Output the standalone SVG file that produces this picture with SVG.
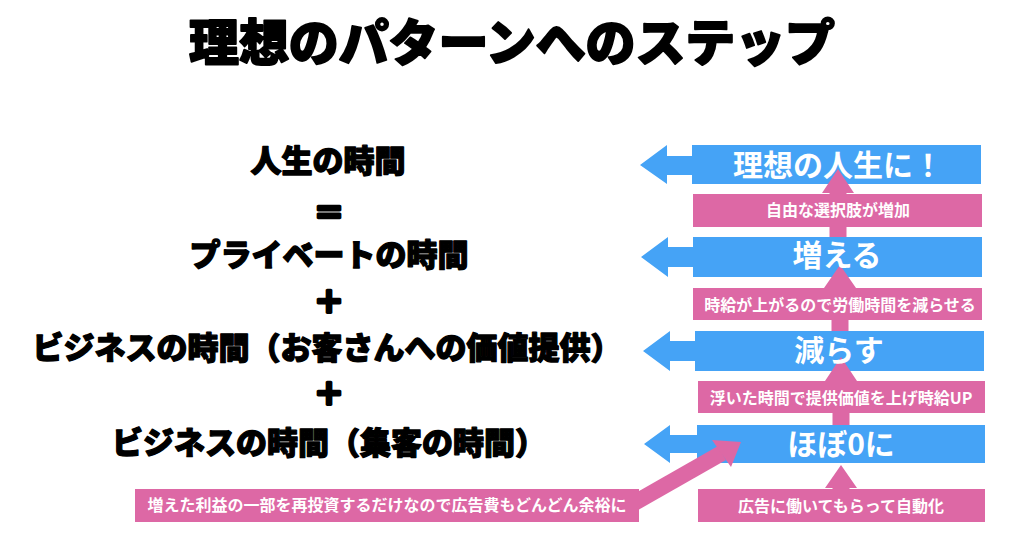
<svg xmlns="http://www.w3.org/2000/svg" width="1024" height="546" viewBox="0 0 1024 546">
<style>
.blk{font-family:"Noto Sans CJK JP","Noto Sans CJK SC",sans-serif;font-weight:900;fill:#000;stroke:#000;stroke-width:1.3px;stroke-linejoin:round;text-anchor:middle}
.wb{font-family:"Noto Sans CJK JP","Noto Sans CJK SC",sans-serif;font-weight:700;fill:#fff;text-anchor:middle;font-size:30px}
.ws{font-family:"Noto Sans CJK JP","Noto Sans CJK SC",sans-serif;font-weight:700;fill:#fff;text-anchor:middle;font-size:16px}
.blue{fill:#45A3F6}
.pink{fill:#DD68A5}
.lt{font-size:31px}
.op{stroke-width:3px}
</style>
<rect width="1024" height="546" fill="#fff"/>
<g id="title"><text class="blk" x="512" y="61" font-size="50" style="stroke-width:1.8px" textLength="646" lengthAdjust="spacing">理想のパターンへのステップ</text></g>

<g id="left-formula">
<g id="life-time"><text class="blk lt" x="328" y="172">人生の時間</text></g>
<g id="eq"><text class="blk lt op" x="329" y="224">＝</text></g>
<g id="private-time"><text class="blk lt" x="329" y="266">プライベートの時間</text></g>
<g id="plus1"><text class="blk lt op" x="329" y="313">＋</text></g>
<g id="business-value"><text class="blk lt" x="327" y="359">ビジネスの時間（お客さんへの価値提供）</text></g>
<g id="plus2"><text class="blk lt op" x="329" y="405">＋</text></g>
<g id="business-acq"><text class="blk lt" x="329" y="454">ビジネスの時間（集客の時間）</text></g>
</g>

<g id="bar-ideal"><polygon class="blue" points="640,165 667,145 667,156 692,156 692,145 981,145 981,184 692,184 692,175 667,175 667,184"/></g>
<g id="bar-increase"><polygon class="blue" points="641,257 668,237 668,247 693,247 693,237 982,237 982,277 693,277 693,267 668,267 668,277"/></g>
<g id="bar-reduce"><polygon class="blue" points="643,351 670,331 670,341 695,341 695,331 984,331 984,371 695,371 695,361 670,361 670,371"/></g>
<g id="bar-zero"><polygon class="blue" points="644,444 670,425 670,435 697,435 697,425 985,425 985,463 697,463 697,453 670,453 670,463"/></g>

<g id="connectors" class="pink">
<polygon points="829.5,237 846.5,237 846.5,193 854,193 838,169 822,193 829.5,193"/>
<polygon points="831.5,331 848.5,331 848.5,288 856,288 840,265 824,288 831.5,288"/>
<polygon points="832.5,425 849.5,425 849.5,381 857,381 841,357 825,381 832.5,381"/>
<polygon points="832.5,522 849.5,522 849.5,488 857,488 841,465 825,488 832.5,488"/>
<line x1="622" y1="510" x2="722" y2="453" stroke="#DD68A5" stroke-width="16"/>
<polygon points="741,442 712,440 731,467"/>
</g>

<g id="step-choices"><rect class="pink" x="693" y="194" width="289" height="33"/><text class="ws" x="838" y="216">自由な選択肢が増加</text></g>
<g id="step-wage"><rect class="pink" x="693" y="288" width="289" height="32"/><text class="ws" x="840" y="311">時給が上がるので労働時間を減らせる</text></g>
<g id="step-value"><rect class="pink" x="698" y="381" width="287" height="32"/><text class="ws" x="841" y="404">浮いた時間で提供価値を上げ時給UP</text></g>
<g id="step-ads"><rect class="pink" x="698" y="489" width="287" height="33"/><text class="ws" x="841" y="512">広告に働いてもらって自動化</text></g>
<g id="step-reinvest"><rect class="pink" x="135" y="489" width="504" height="33"/><text class="ws" x="387" y="511">増えた利益の一部を再投資するだけなので広告費もどんどん余裕に</text></g>

<g id="bar-labels">
<text id="label-ideal" class="wb" x="838" y="176">理想の人生に！</text>
<text id="label-increase" class="wb" x="837" y="266">増える</text>
<text id="label-reduce" class="wb" x="839" y="361">減らす</text>
<text id="label-zero" class="wb" x="841" y="455">ほぼ0に</text>
</g>
</svg>
